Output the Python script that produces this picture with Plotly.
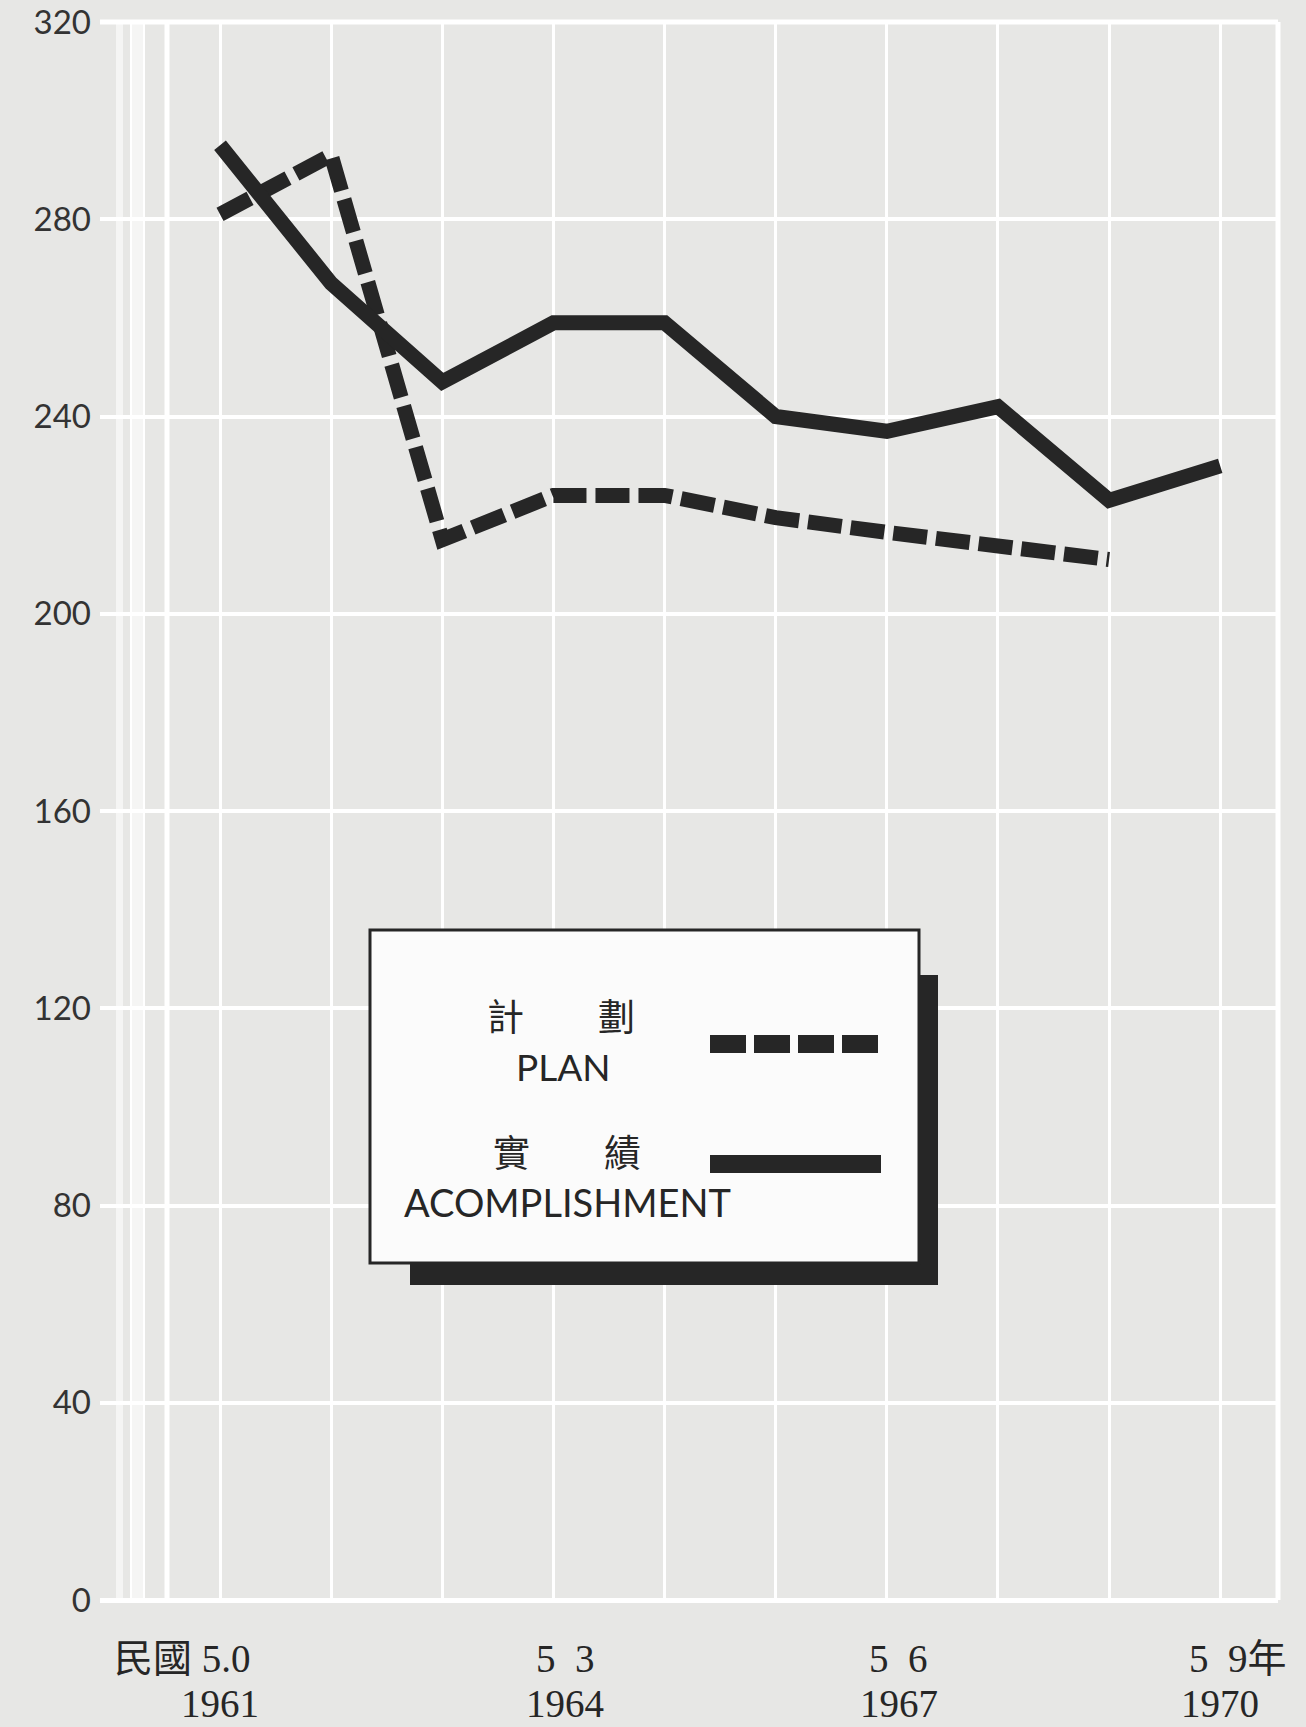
import plotly.graph_objects as go

# ---------------- data ----------------
years = [1961, 1962, 1963, 1964, 1965, 1966, 1967, 1968, 1969, 1970]
plan = [281, 293, 215, 224, 224, 219.5, 216.5, 214, 211, None]
accomplishment = [295, 267, 247, 259, 259, 240, 237, 242, 223, 230]

y_ticks = [0, 40, 80, 120, 160, 200, 240, 280, 320]
x_label_years = [1961, 1964, 1967, 1970]
roc_labels = ["民國 5.0", "5\u20023", "5\u20026", "5\u20029年"]
ad_labels = ["1961", "1964", "1967", "1970"]

legend_plan_zh = "計\u3000\u3000劃"
legend_plan_en = "PLAN"
legend_acc_zh = "實\u3000\u3000績"
legend_acc_en = "ACOMPLISHMENT"

# ---------------- style ----------------
W, H = 1306, 1727
ML, MR, MT, MB = 100, 28, 22, 127
BG = "#e7e7e5"
INK = "#262626"
GRID = "#ffffff"
SANS = "Lato, 'Noto Sans', sans-serif"
SERIF = "'Liberation Serif', 'Noto Sans CJK TC', serif"

PW = W - ML - MR
PH = H - MT - MB


def px(X):
    return (X - ML) / PW


def py(Y):
    return (H - MB - Y) / PH


fig = go.Figure()

fig.add_trace(go.Scatter(
    x=years, y=plan, mode="lines", name=legend_plan_en,
    line=dict(color=INK, width=15, dash="34px,9px"),
    showlegend=False, connectgaps=False,
))
fig.add_trace(go.Scatter(
    x=years, y=accomplishment, mode="lines", name=legend_acc_en,
    line=dict(color=INK, width=15),
    showlegend=False,
))

shapes = []
# left white strips and border lines
for x0, x1 in [(116, 123), (130, 145)]:
    shapes.append(dict(type="rect", xref="paper", yref="paper",
                       x0=px(x0), x1=px(x1), y0=0, y1=1,
                       fillcolor="#f5f5f4", line=dict(width=0), layer="below"))
for xx, w in [(131, 2), (144, 2), (167, 5)]:
    shapes.append(dict(type="line", xref="paper", yref="paper",
                       x0=px(xx), x1=px(xx), y0=0, y1=1,
                       line=dict(color=GRID, width=w), layer="below"))
shapes.append(dict(type="line", xref="paper", yref="paper",
                   x0=1, x1=1, y0=0, y1=1,
                   line=dict(color=GRID, width=5), layer="below"))
shapes.append(dict(type="line", xref="paper", yref="paper",
                   x0=px(100), x1=1, y0=1, y1=1,
                   line=dict(color=GRID, width=5), layer="below"))

# legend box: shadow, box, samples
shapes.append(dict(type="rect", xref="paper", yref="paper",
                   x0=px(410), x1=px(938), y0=py(1285), y1=py(975),
                   fillcolor=INK, line=dict(width=0), layer="above"))
shapes.append(dict(type="rect", xref="paper", yref="paper",
                   x0=px(370), x1=px(919), y0=py(1263), y1=py(930),
                   fillcolor="#fbfbfb", line=dict(color=INK, width=3),
                   layer="above"))
shapes.append(dict(type="line", xref="paper", yref="paper",
                   x0=px(710), x1=px(884), y0=py(1044), y1=py(1044),
                   line=dict(color=INK, width=18, dash="36px,8px"),
                   layer="above"))
shapes.append(dict(type="line", xref="paper", yref="paper",
                   x0=px(710), x1=px(881), y0=py(1164), y1=py(1164),
                   line=dict(color=INK, width=18), layer="above"))

annotations = []
# legend texts
for txt, X, Y, fam, size in [
    (legend_plan_zh, 561, 1015, "'Noto Sans CJK TC', sans-serif", 37),
    (legend_plan_en, 563, 1066, SANS, 37),
    (legend_acc_zh, 567, 1151, "'Noto Sans CJK TC', sans-serif", 37),
    (legend_acc_en, 567, 1202, SANS, 38),
]:
    annotations.append(dict(xref="paper", yref="paper", x=px(X), y=py(Y),
                            text=txt, showarrow=False, xanchor="center",
                            yanchor="middle",
                            font=dict(family=fam, size=size, color=INK)))

# x-axis labels (two rows)
row1_y = py(1658)
row2_y = py(1703)
for i, (yr, t1, t2) in enumerate(zip(x_label_years, roc_labels, ad_labels)):
    if i == 0:
        a1 = dict(xanchor="right", xshift=33)
    elif i == len(x_label_years) - 1:
        a1 = dict(xanchor="left", xshift=-33)
    else:
        a1 = dict(xanchor="center", xshift=12)
    annotations.append(dict(xref="x", yref="paper", x=yr, y=row1_y, text=t1,
                            showarrow=False, yanchor="middle",
                            font=dict(family=SERIF, size=39, color=INK), **a1))
    annotations.append(dict(xref="x", yref="paper", x=yr, y=row2_y, text=t2,
                            showarrow=False, xanchor="center", yanchor="middle",
                            xshift=(0 if i in (0, len(x_label_years) - 1) else 12),
                            font=dict(family=SERIF, size=39, color=INK)))

fig.update_layout(
    width=W, height=H,
    margin=dict(l=ML, r=MR, t=MT, b=MB, pad=0, autoexpand=False),
    paper_bgcolor=BG, plot_bgcolor=BG,
    shapes=shapes, annotations=annotations,
    showlegend=False,
)
fig.update_xaxes(
    range=[1959.92, 1970.52], tickvals=years, showticklabels=False,
    showgrid=True, gridcolor=GRID, gridwidth=3, zeroline=False,
    showline=False, ticks="", automargin=False,
)
fig.update_yaxes(
    range=[0, 320], tickvals=y_ticks, ticktext=[str(v) for v in y_ticks],
    showgrid=True, gridcolor=GRID, gridwidth=4,
    zeroline=True, zerolinecolor=GRID, zerolinewidth=5,
    showline=False, ticks="", ticklabelstandoff=8, automargin=False,
    tickfont=dict(family=SANS, size=33, color="#333333"),
)

fig.write_html(
    "out.html",
    config={"displayModeBar": False},
    post_script="document.body.style.margin='0';"
                "document.body.style.background='" + BG + "';"
                "document.body.style.overflow='hidden';",
)
